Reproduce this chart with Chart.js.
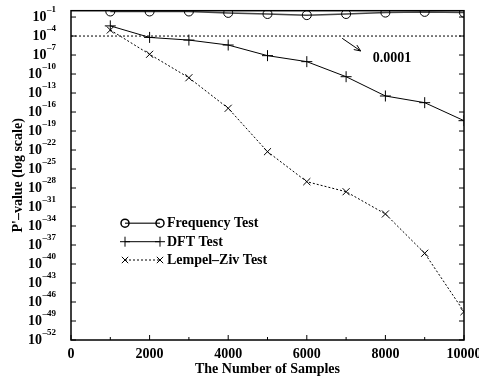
<!DOCTYPE html>
<html>
<head>
<meta charset="utf-8">
<script src="https://cdn.jsdelivr.net/npm/chart.js@4.4.1/dist/chart.umd.min.js"></script>
<style>
  html, body { margin: 0; padding: 0; background: #fff; overflow: hidden; }
  #wrap { width: 479px; height: 383px; overflow: hidden; }
</style>
</head>
<body>
<div id="wrap"><canvas id="pChart" width="500" height="383"></canvas></div>
<script>
'use strict';

// data
const samples = [1000, 2000, 3000, 4000, 5000, 6000, 7000, 8000, 9000, 10000];
const freqValues = [0.75, 0.75, 0.75, 0.45, 0.3, 0.2, 0.3, 0.5, 0.65, 0.5];
const dftValues = [4e-3, 6e-5, 2.3e-5, 3.8e-6, 8e-8, 9e-9, 3.8e-11, 3.4e-14, 3e-15, 4.3e-18];
const lzValues = [9e-4, 1.3e-7, 2.6e-11, 3.9e-16, 5.5e-23, 1e-27, 2.6e-29, 8e-33, 5e-39, 3e-48];
const thresholdX = [0, 10000];
const thresholdY = [1e-4, 1e-4];
const yExponents = [-1, -4, -7, -10, -13, -16, -19, -22, -25, -28, -31, -34, -37, -40, -43, -46, -49, -52];
const xMajor = [0, 2000, 4000, 6000, 8000, 10000];
const xMinor = [1000, 3000, 5000, 7000, 9000];
const arrowFrom = [6900, 4.4e-5];
const arrowTo = [7370, 4.4e-7];
const noteAt = [7680, 3e-8];
const noteText = '0.0001';
const legendLabels = ['Frequency Test', 'DFT Test', 'Lempel\u2013Ziv Test'];

const serif = '"Liberation Serif", "Times New Roman", serif';

const toPoints = function (xs, ys) {
    return xs.map(function (x, i) { return {x: x, y: ys[i]}; });
};

const seriesStyles = [
    {label: legendLabels[0], data: toPoints(samples, freqValues), borderColor: '#444', borderWidth: 1.5,
        pointStyle: 'circle', pointRadius: 4.5, pointBorderColor: '#000', pointBorderWidth: 1, borderDash: []},
    {label: legendLabels[1], data: toPoints(samples, dftValues), borderColor: '#000', borderWidth: 1,
        pointStyle: 'cross', pointRadius: 5.5, pointBorderColor: '#000', pointBorderWidth: 1, borderDash: []},
    {label: legendLabels[2], data: toPoints(samples, lzValues), borderColor: '#000', borderWidth: 1,
        pointStyle: 'crossRot', pointRadius: 5, pointBorderColor: '#000', pointBorderWidth: 1, borderDash: [2, 2]}
];

const datasets = seriesStyles.map(function (s) {
    return Object.assign({
        backgroundColor: 'rgba(0,0,0,0)',
        pointBackgroundColor: 'rgba(0,0,0,0)',
        fill: false,
        tension: 0
    }, s);
});
datasets.push({
    label: 'threshold',
    data: toPoints(thresholdX, thresholdY),
    borderColor: '#000',
    borderWidth: 1,
    borderDash: [2, 2],
    pointRadius: 0,
    fill: false
});

const decorPlugin = {
    id: 'decor',
    afterDatasetsDraw: function (chart) {
        const ctx = chart.ctx;
        const xs = chart.scales.x;
        const ys = chart.scales.y;
        const a = chart.chartArea;
        ctx.save();

        // frame
        ctx.strokeStyle = '#000';
        ctx.lineWidth = 1.5;
        ctx.strokeRect(a.left, a.top, a.right - a.left, a.bottom - a.top);

        // tick marks
        ctx.lineWidth = 1;
        ctx.beginPath();
        yExponents.forEach(function (e) {
            const py = ys.getPixelForValue(Math.pow(10, e));
            ctx.moveTo(a.left, py); ctx.lineTo(a.left + 5, py);
            ctx.moveTo(a.right, py); ctx.lineTo(a.right - 5, py);
        });
        xMajor.forEach(function (v) {
            const px = xs.getPixelForValue(v);
            ctx.moveTo(px, a.bottom); ctx.lineTo(px, a.bottom - 5);
        });
        xMinor.forEach(function (v) {
            const px = xs.getPixelForValue(v);
            ctx.moveTo(px, a.bottom); ctx.lineTo(px, a.bottom - 3);
        });
        ctx.stroke();

        // y tick labels with superscript exponents
        ctx.fillStyle = '#000';
        ctx.textBaseline = 'middle';
        yExponents.forEach(function (e) {
            const py = ys.getPixelForValue(Math.pow(10, e));
            const exp = '\u2013' + String(-e);
            ctx.font = 'bold 9px ' + serif;
            const ew = ctx.measureText(exp).width;
            ctx.textAlign = 'left';
            const right = a.left - 15;
            ctx.fillText(exp, right - ew, py - 7);
            ctx.font = 'bold 14px ' + serif;
            ctx.textAlign = 'right';
            ctx.fillText('10', right - ew - 0.5, py + 0.5);
        });

        // annotation arrow
        const x1 = xs.getPixelForValue(arrowFrom[0]), y1 = ys.getPixelForValue(arrowFrom[1]);
        const x2 = xs.getPixelForValue(arrowTo[0]), y2 = ys.getPixelForValue(arrowTo[1]);
        const ang = Math.atan2(y2 - y1, x2 - x1);
        ctx.beginPath();
        ctx.moveTo(x1, y1); ctx.lineTo(x2, y2);
        ctx.moveTo(x2 - 7 * Math.cos(ang - 0.4), y2 - 7 * Math.sin(ang - 0.4));
        ctx.lineTo(x2, y2);
        ctx.lineTo(x2 - 7 * Math.cos(ang + 0.4), y2 - 7 * Math.sin(ang + 0.4));
        ctx.stroke();
        ctx.font = 'bold 14px ' + serif;
        ctx.textAlign = 'left';
        ctx.fillText(noteText, xs.getPixelForValue(noteAt[0]), ys.getPixelForValue(noteAt[1]));

        // legend inside the plot
        const lx1 = a.left + 54, lx2 = a.left + 89, tx = a.left + 96;
        const rows = [a.top + 212.5, a.top + 231, a.top + 249.3];
        seriesStyles.forEach(function (s, i) {
            const ry = rows[i];
            ctx.strokeStyle = s.borderColor;
            ctx.lineWidth = s.borderWidth;
            ctx.setLineDash(s.borderDash);
            ctx.beginPath();
            ctx.moveTo(lx1, ry); ctx.lineTo(lx2, ry);
            ctx.stroke();
            ctx.setLineDash([]);
            ctx.strokeStyle = '#000';
            ctx.fillStyle = 'rgba(0,0,0,0)';
            [lx1, lx2].forEach(function (px) {
                Chart.helpers.drawPoint(ctx, {pointStyle: s.pointStyle, radius: s.pointRadius - 0.5,
                    borderWidth: 1, rotation: 0}, px, ry);
            });
            ctx.fillStyle = '#000';
            ctx.font = 'bold 14px ' + serif;
            ctx.fillText(s.label, tx, ry + 0.5);
        });
        ctx.restore();
    }
};

const chartCtx = document.getElementById('pChart').getContext('2d');
const pChart = new Chart(chartCtx, {
    type: 'line',
    data: {datasets: datasets},
    plugins: [decorPlugin],
    options: {
        responsive: false,
        animation: false,
        devicePixelRatio: 1,
        layout: {padding: {top: 10.7, right: 36, bottom: 0, left: 0}},
        plugins: {
            legend: {display: false},
            tooltip: {enabled: false}
        },
        scales: {
            x: {
                type: 'linear',
                min: 0,
                max: 10000,
                grid: {display: false, drawTicks: false},
                border: {display: false},
                afterFit: function (scale) { scale.height = 43; },
                ticks: {
                    stepSize: 1000,
                    autoSkip: false,
                    maxRotation: 0,
                    padding: 6,
                    color: '#000',
                    font: {family: serif, size: 14, weight: 'bold'},
                    callback: function (v) { return v % 2000 === 0 ? String(v) : ''; }
                },
                title: {
                    display: true,
                    text: 'The Number of Samples',
                    color: '#000',
                    padding: {top: 0, bottom: 5},
                    font: {family: serif, size: 14, weight: 'bold'}
                }
            },
            y: {
                type: 'logarithmic',
                min: 1e-52,
                max: 1,
                grid: {display: false, drawTicks: false},
                border: {display: false},
                afterFit: function (scale) { scale.width = 71; },
                ticks: {display: false},
                title: {
                    display: true,
                    text: 'P\'\u2013value (log scale)',
                    color: '#000',
                    padding: {top: 10, bottom: 0},
                    font: {family: serif, size: 14, weight: 'bold'}
                }
            }
        }
    }
});
</script>
</body>
</html>
